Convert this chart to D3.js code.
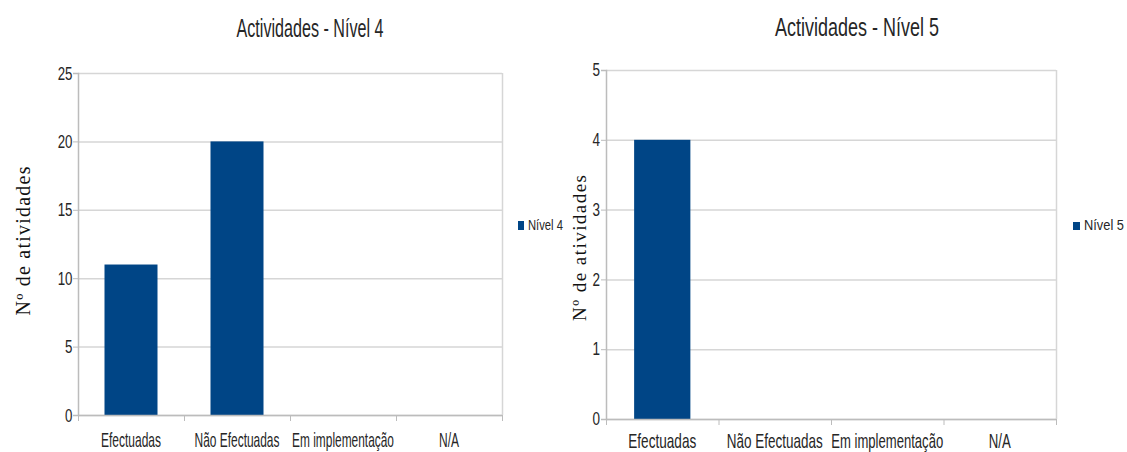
<!DOCTYPE html>
<html>
<head>
<meta charset="utf-8">
<script src="https://cdn.jsdelivr.net/npm/d3@7"></script>
<style>
  html, body { margin: 0; padding: 0; background: #fff; }
  svg { display: block; }
  .sans { font-family: "Liberation Sans", Arial, sans-serif; }
  .serif { font-family: "Liberation Serif", "Times New Roman", serif; }
</style>
</head>
<body>
<svg id="chart" width="1127" height="452"></svg>
<script>
// Activity categories shared by both panels
const categories = ["Efectuadas", "Não Efectuadas", "Em implementação", "N/A"];

// Counts per category for each level
const nivel4Values = [11, 20, 0, 0];
const nivel5Values = [4, 0, 0, 0];

// Y-axis tick labels
const nivel4Ticks = [0, 5, 10, 15, 20, 25];
const nivel5Ticks = [0, 1, 2, 3, 4, 5];

const titles = ["Actividades - Nível 4", "Actividades - Nível 5"];
const seriesNames = ["Nível 4", "Nível 5"];
const yLabel = "Nº de atividades";

const barColor = "#004586";
const gridColor = "#d6d6d6";
const axisColor = "#bcbcbc";
const textColor = "#262626";

const svg = d3.select("#chart");

// Condensed text: place a text at (x, y) with the given anchor and squeeze it horizontally to a width
function condensed(parent, str, x, y, size, width, anchor, cls) {
  const t = parent.append("text").attr("class", cls || "sans")
    .attr("font-size", size).attr("fill", textColor)
    .attr("text-anchor", anchor || "start")
    .text(str);
  const natural = t.node().getComputedTextLength();
  const f = width / natural;
  t.attr("transform", `translate(${x},${y}) scale(${f},1)`);
  return t;
}

// Panel layout
const panels = [
  { title: titles[0], name: seriesNames[0], values: nivel4Values, ticks: nivel4Ticks,
    x0: 78, x1: 502, y0: 415, y1: 73,
    titleX: 310, titleY: 37, titleSize: 25, titleW: 147,
    catSize: 20, catY: 447, catW: [60, 85, 102, 20],
    numSize: 19, numScale: 0.7,
    ylabX: 23, ylabY: 241, ylabSize: 20, ylabW: 149,
    legX: 518, legY: 221, legW: 6, legH: 9, legSize: 15, legTextW: 35 },
  { title: titles[1], name: seriesNames[1], values: nivel5Values, ticks: nivel5Ticks,
    x0: 606, x1: 1056, y0: 419, y1: 70,
    titleX: 857, titleY: 36, titleSize: 26, titleW: 164,
    catSize: 20, catY: 448, catW: [68, 96, 112, 22],
    numSize: 18, numScale: 0.75,
    ylabX: 579, ylabY: 248, ylabSize: 19, ylabW: 146,
    legX: 1073, legY: 222, legW: 7, legH: 8, legSize: 14, legTextW: 40 }
];

panels.forEach(p => {
  const g = svg.append("g");

  const x = d3.scaleBand().domain(categories).range([p.x0, p.x1]).paddingInner(0).paddingOuter(0);
  const y = d3.scaleLinear().domain([0, d3.max(p.ticks)]).range([p.y0, p.y1]);

  // horizontal gridlines
  g.append("g").selectAll("line").data(p.ticks).join("line")
    .attr("x1", p.x0).attr("x2", p.x1)
    .attr("y1", d => y(d) + 0.5).attr("y2", d => y(d) + 0.5)
    .attr("stroke", gridColor).attr("stroke-width", 1.5);

  // right border of plot area
  g.append("line")
    .attr("x1", p.x1 + 0.5).attr("x2", p.x1 + 0.5)
    .attr("y1", p.y1).attr("y2", p.y0)
    .attr("stroke", gridColor).attr("stroke-width", 1.5);

  // bars, half the category width, centred in each band
  const bw = x.bandwidth() / 2;
  g.append("g").selectAll("rect").data(p.values.map((v, i) => ({ c: categories[i], v })))
    .join("rect")
    .attr("x", d => x(d.c) + (x.bandwidth() - bw) / 2)
    .attr("width", bw)
    .attr("y", d => y(d.v))
    .attr("height", d => p.y0 - y(d.v))
    .attr("fill", barColor);

  // y axis
  const yAxis = d3.axisLeft(y).tickValues(p.ticks).tickSize(5).tickPadding(3).tickFormat(d3.format("d"));
  const ya = g.append("g").attr("transform", `translate(${p.x0},0)`).call(yAxis);
  ya.select(".domain").attr("stroke", axisColor).attr("stroke-width", 1.5);
  ya.selectAll(".tick line").attr("stroke", axisColor);
  ya.selectAll(".tick text")
    .attr("class", "sans")
    .attr("font-size", p.numSize)
    .attr("fill", textColor)
    .attr("transform", `scale(${p.numScale},1)`);

  // x axis with ticks at category boundaries
  const xa = g.append("g").attr("transform", `translate(0,${p.y0})`);
  xa.append("line").attr("x1", p.x0).attr("x2", p.x1).attr("y1", 0.5).attr("y2", 0.5)
    .attr("stroke", axisColor).attr("stroke-width", 1.5);
  const bounds = categories.map(c => x(c)).concat([p.x1]);
  xa.selectAll("line.b").data(bounds).join("line").attr("class", "b")
    .attr("x1", d => d + 0.5).attr("x2", d => d + 0.5).attr("y1", 0).attr("y2", 6)
    .attr("stroke", axisColor);
  const cats = g.append("g");
  categories.forEach((c, i) => {
    condensed(cats, c, x(c) + x.bandwidth() / 2, p.catY, p.catSize, p.catW[i], "middle");
  });

  // title
  condensed(g, p.title, p.titleX, p.titleY, p.titleSize, p.titleW, "middle");

  // y-axis label, rotated, letter-spaced to its length
  g.append("text").attr("class", "serif")
    .attr("transform", `translate(${p.ylabX},${p.ylabY}) rotate(-90)`)
    .attr("x", -p.ylabW / 2)
    .attr("dominant-baseline", "central")
    .attr("font-size", p.ylabSize)
    .attr("textLength", p.ylabW).attr("lengthAdjust", "spacing")
    .attr("fill", "#111")
    .text(yLabel);

  // legend
  g.append("rect").attr("x", p.legX).attr("y", p.legY).attr("width", p.legW).attr("height", p.legH)
    .attr("fill", barColor);
  condensed(g, p.name, p.legX + p.legW + 4, p.legY + p.legH, p.legSize, p.legTextW, "start");
});
</script>
</body>
</html>
